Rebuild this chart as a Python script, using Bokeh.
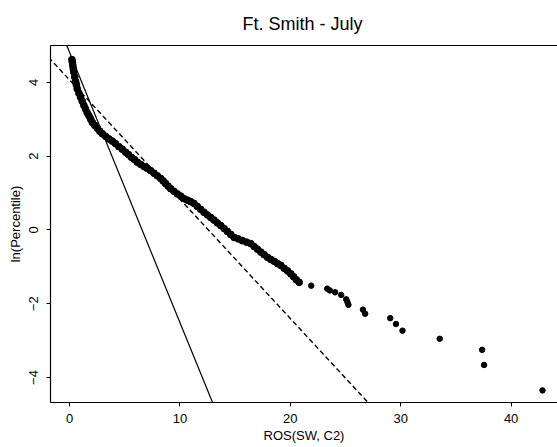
from bokeh.plotting import figure
from bokeh.models import FixedTicker, LinearAxis, Range1d, Slope, Title
from bokeh.embed import file_html
from bokeh.resources import INLINE

# ---- data ----
curve_x = [0.22, 0.26, 0.30, 0.34, 0.39, 0.47, 0.55, 0.62, 0.70, 0.85, 1.00, 1.15,
           1.30, 1.45, 1.60, 1.76, 1.91, 2.06, 2.28, 2.51, 2.74, 2.97, 3.27, 3.57,
           3.87, 4.17, 4.47, 4.78, 5.08, 5.35, 5.61, 5.88, 6.14, 6.44, 6.75, 7.05,
           7.35, 7.65, 7.95, 8.25, 8.48, 8.70, 8.93, 9.16, 9.46, 9.76, 10.07, 10.37,
           10.67, 10.97, 11.27, 11.57, 11.88, 12.18, 12.48, 12.79, 13.09, 13.40, 13.70,
           14.00, 14.30, 14.60, 14.90, 15.28, 15.66, 16.04, 16.42, 16.72, 17.02, 17.33,
           17.63, 17.93, 18.23, 18.54, 18.84, 19.14, 19.44, 19.75, 20.05, 20.30, 20.55,
           20.80]
curve_y = [4.62, 4.55, 4.46, 4.37, 4.28, 4.15, 4.03, 3.94, 3.83, 3.71, 3.60, 3.49,
           3.38, 3.28, 3.18, 3.10, 3.01, 2.92, 2.84, 2.76, 2.68, 2.61, 2.54, 2.47,
           2.41, 2.34, 2.26, 2.19, 2.11, 2.04, 1.97, 1.91, 1.84, 1.78, 1.72, 1.67,
           1.61, 1.54, 1.47, 1.40, 1.33, 1.26, 1.19, 1.12, 1.05, 0.98, 0.92, 0.85,
           0.81, 0.77, 0.72, 0.64, 0.56, 0.48, 0.41, 0.34, 0.27, 0.19, 0.12,
           0.04, -0.04, -0.12, -0.20, -0.24, -0.29, -0.33, -0.37, -0.45, -0.52, -0.60,
           -0.67, -0.74, -0.80, -0.85, -0.91, -0.96, -1.04, -1.11, -1.19, -1.27, -1.35,
           -1.42]
tail_x = [21.89, 23.34, 23.58, 24.06, 24.61, 25.06, 25.17, 25.26, 26.58, 26.78,
          29.05, 29.57, 30.16, 33.53, 37.37, 37.55, 42.84]
tail_y = [-1.51, -1.59, -1.64, -1.69, -1.76, -1.88, -1.95, -2.03, -2.16, -2.27,
          -2.39, -2.55, -2.73, -2.95, -3.25, -3.66, -4.35]

solid_fit = {"intercept": 4.82, "slope": -0.733}
dashed_fit = {"intercept": 4.07, "slope": -0.3235}

x_ticks = [0, 10, 20, 30, 40]
y_ticks = [-4, -2, 0, 2, 4]

FONT = "Liberation Sans"

p = figure(width=557, height=447, output_backend="svg", toolbar_location=None,
           x_range=Range1d(-1.723, 44.2), y_range=Range1d(-4.678, 5.003),
           min_border_left=50, min_border_right=0, min_border_top=45,
           min_border_bottom=45, x_axis_label="ROS(SW, C2)",
           y_axis_label="ln(Percentile)")
p.outline_line_color = None
p.xgrid.visible = False
p.ygrid.visible = False
p.background_fill_color = "white"
p.border_fill_color = "white"

bottom = p.below[0]
left = p.left[0]

top = LinearAxis(ticker=FixedTicker(ticks=[]), axis_line_color="black",
                 axis_line_width=1.2, major_tick_line_color=None,
                 minor_tick_line_color=None, major_label_text_font_size="0px",
                 major_label_standoff=0, axis_label_standoff=0)
p.add_layout(top, "above")

p.add_layout(Title(text="Ft. Smith - July", align="left", offset=192,
                   standoff=23, text_font=FONT, text_font_size="18px",
                   text_font_style="normal", text_color="black"), "above")

for ax in (bottom, left):
    ax.axis_line_color = "black"
    ax.axis_line_width = 1.2
    ax.major_tick_line_color = "black"
    ax.major_tick_in = 0
    ax.major_tick_out = 4
    ax.minor_tick_line_color = None
    ax.major_label_text_font = FONT
    ax.major_label_text_font_size = "13px"
    ax.major_label_text_color = "black"
    ax.axis_label_text_font = FONT
    ax.axis_label_text_font_size = "13px"
    ax.axis_label_text_font_style = "normal"
    ax.axis_label_text_color = "black"

bottom.ticker = FixedTicker(ticks=x_ticks)
left.ticker = FixedTicker(ticks=y_ticks)
left.major_label_orientation = "vertical"
bottom.major_label_standoff = 7
bottom.axis_label_standoff = 2
left.major_label_standoff = 8
left.axis_label_standoff = 4

p.add_layout(Slope(gradient=solid_fit["slope"], y_intercept=solid_fit["intercept"],
                   line_color="black", line_width=1.2))
p.add_layout(Slope(gradient=dashed_fit["slope"], y_intercept=dashed_fit["intercept"],
                   line_color="black", line_width=1.4, line_dash="5 3"))

p.scatter(curve_x, curve_y, size=6.8, color="black")
p.scatter(tail_x, tail_y, size=5.5, color="black")

open("out.html", "w").write(file_html(p, INLINE))
